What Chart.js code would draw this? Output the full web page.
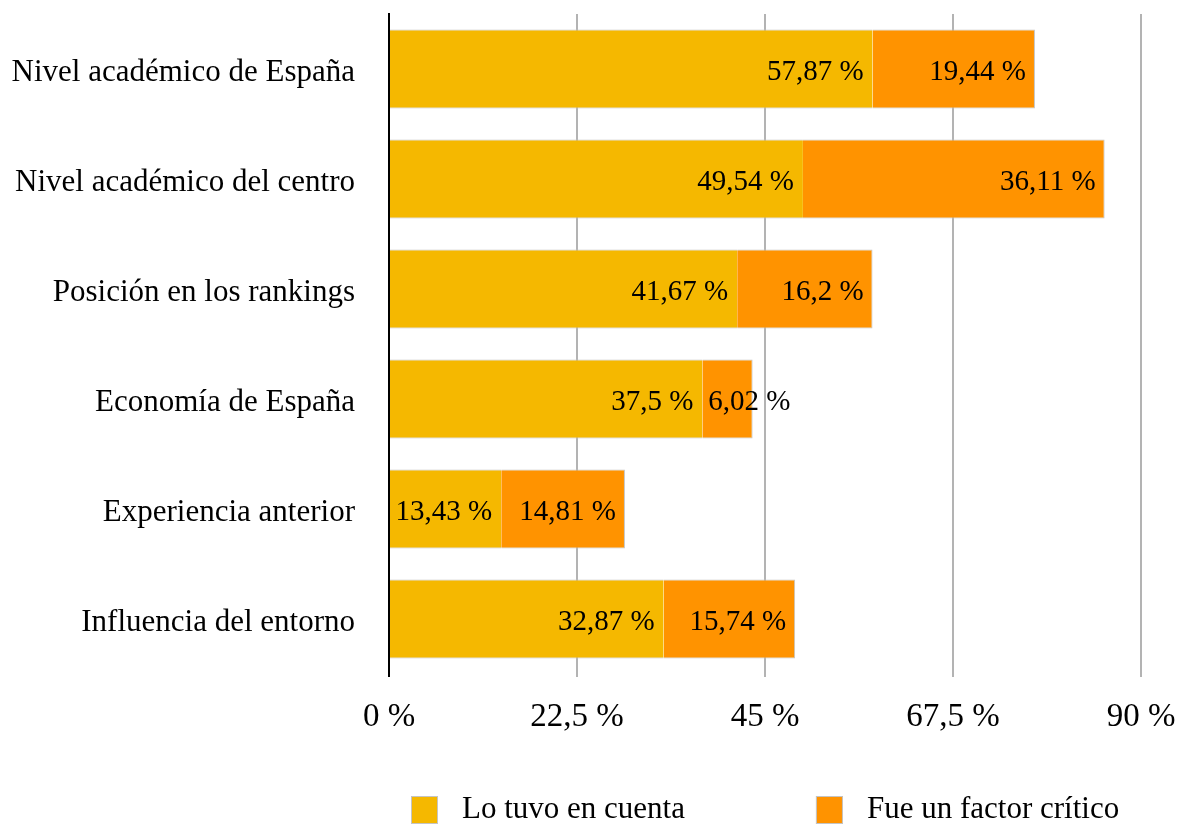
<!DOCTYPE html>
<html>
<head>
<meta charset="utf-8">
<script src="https://cdn.jsdelivr.net/npm/chart.js@4"></script>
<style>
  html, body { margin: 0; padding: 0; background: #fff; }
  #wrap { width: 1183px; height: 825px; position: relative; }
</style>
</head>
<body>
<div id="wrap"><canvas id="grafico"></canvas></div>
<script>
const categorias = [
    'Nivel académico de España',
    'Nivel académico del centro',
    'Posición en los rankings',
    'Economía de España',
    'Experiencia anterior',
    'Influencia del entorno'
];
const loTuvo = [57.87, 49.54, 41.67, 37.5, 13.43, 32.87];
const factorCritico = [19.44, 36.11, 16.2, 6.02, 14.81, 15.74];
const ticksX = [0, 22.5, 45, 67.5, 90];
const nombresSeries = ['Lo tuvo en cuenta', 'Fue un factor crítico'];
const colores = ['#F5B800', '#FF9300'];

const fuente = '"Liberation Serif", "DejaVu Serif", serif';

function fmt(v) {
    return String(v).replace('.', ',') + ' %';
}

// Etiquetas de valor dentro de cada segmento
const etiquetas = {
    id: 'etiquetas',
    afterDatasetsDraw(chart) {
        const ctx = chart.ctx;
        ctx.save();
        ctx.font = '29px ' + fuente;
        ctx.fillStyle = '#000';
        ctx.textBaseline = 'middle';
        chart.data.datasets.forEach((ds, i) => {
            const meta = chart.getDatasetMeta(i);
            meta.data.forEach((bar, j) => {
                const txt = fmt(ds.data[j]);
                const w = ctx.measureText(txt).width;
                const ancho = bar.x - bar.base;
                if (w + 14 > ancho) {
                    // no cabe: se escribe desde el inicio del segmento
                    ctx.textAlign = 'left';
                    ctx.fillText(txt, bar.base + 6, bar.y + 3);
                } else {
                    ctx.textAlign = 'right';
                    ctx.fillText(txt, bar.x - 9, bar.y + 3);
                }
            });
        });
        ctx.restore();
    }
};

// Leyenda dibujada a mano debajo del eje
const leyenda = {
    id: 'leyenda',
    afterDraw(chart) {
        const ctx = chart.ctx;
        const area = chart.chartArea;
        ctx.save();
        ctx.font = '31px ' + fuente;
        ctx.textBaseline = 'middle';
        ctx.textAlign = 'left';
        let x = area.left + 22;
        const y = 810;
        nombresSeries.forEach((nombre, i) => {
            ctx.fillStyle = colores[i];
            ctx.fillRect(x, y - 14, 27, 28);
            ctx.strokeStyle = '#c4c4c4';
            ctx.lineWidth = 1;
            ctx.strokeRect(x + 0.5, y - 13.5, 26, 27);
            ctx.fillStyle = '#000';
            ctx.fillText(nombre, x + 51, y);
            x += 51 + ctx.measureText(nombre).width + 131;
        });
        ctx.restore();
    }
};

const ctx = document.getElementById('grafico').getContext('2d');
const grafico = new Chart(ctx, {
    type: 'bar',
    data: {
        labels: categorias,
        datasets: [{
            label: nombresSeries[0],
            data: loTuvo,
            backgroundColor: colores[0],
            borderColor: '#c4c4c4',
            borderWidth: { top: 1, bottom: 1, left: 0, right: 0 },
            borderSkipped: false,
            barPercentage: 0.72,
            categoryPercentage: 1
        }, {
            label: nombresSeries[1],
            data: factorCritico,
            backgroundColor: colores[1],
            borderColor: '#c4c4c4',
            borderWidth: { top: 1, bottom: 1, left: 0, right: 1 },
            borderSkipped: false,
            barPercentage: 0.72,
            categoryPercentage: 1
        }]
    },
    options: {
        indexAxis: 'y',
        responsive: true,
        maintainAspectRatio: false,
        animation: false,
        layout: { padding: { top: 14, right: 42, bottom: 0, left: 0 } },
        plugins: {
            legend: { display: false },
            tooltip: { enabled: false }
        },
        scales: {
            x: {
                stacked: true,
                min: 0,
                max: 90,
                afterBuildTicks: axis => { axis.ticks = ticksX.map(v => ({ value: v })); },
                afterFit: axis => { axis.height = 151; axis.paddingLeft = 0; axis.paddingRight = 0; },
                ticks: {
                    color: '#000',
                    font: { family: fuente, size: 33 },
                    padding: 21,
                    maxRotation: 0,
                    callback: v => fmt(v)
                },
                grid: {
                    color: c => c.tick && c.tick.value === 0 ? '#000' : '#b3b3b3',
                    lineWidth: 2,
                    tickLength: 3
                },
                border: { display: false }
            },
            y: {
                stacked: true,
                afterFit: axis => { axis.width = 389; axis.paddingTop = 0; axis.paddingBottom = 0; },
                ticks: {
                    color: '#000',
                    font: { family: fuente, size: 31 },
                    padding: 34,
                    labelOffset: 4
                },
                grid: { display: false, drawTicks: false, tickLength: 0 },
                border: { color: '#000', width: 2 }
            }
        }
    },
    plugins: [etiquetas, leyenda]
});
</script>
</body>
</html>
